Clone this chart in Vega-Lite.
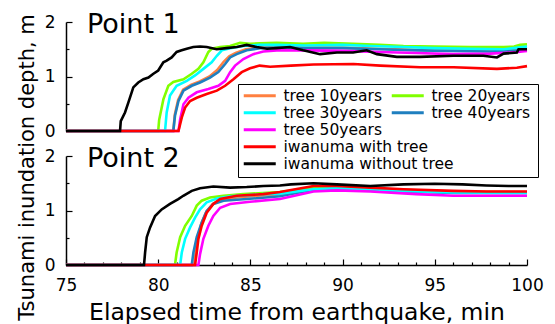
{
  "$schema": "https://vega.github.io/schema/vega-lite/v6.json",
  "padding": {"left": 15, "top": 11, "right": 5, "bottom": 2},
  "bounds": "flush",
  "spacing": 25,
  "config": {"view": {"stroke": null}, "font": "DejaVu Sans"},
  "data": {"values": [
    {"p":1,"s":"tree 10years","t":75,"v":0},{"p":1,"s":"tree 10years","t":80.82,"v":0},{"p":1,"s":"tree 10years","t":80.9,"v":0.3},{"p":1,"s":"tree 10years","t":81.08,"v":0.57},{"p":1,"s":"tree 10years","t":81.35,"v":0.76},{"p":1,"s":"tree 10years","t":81.8,"v":0.85},{"p":1,"s":"tree 10years","t":82.25,"v":0.91},{"p":1,"s":"tree 10years","t":82.78,"v":1.0},{"p":1,"s":"tree 10years","t":83.2,"v":1.12},{"p":1,"s":"tree 10years","t":83.55,"v":1.27},{"p":1,"s":"tree 10years","t":83.85,"v":1.37},{"p":1,"s":"tree 10years","t":84.2,"v":1.43},{"p":1,"s":"tree 10years","t":84.75,"v":1.5},{"p":1,"s":"tree 10years","t":85.5,"v":1.53},{"p":1,"s":"tree 10years","t":86.43,"v":1.54},{"p":1,"s":"tree 10years","t":88,"v":1.53},{"p":1,"s":"tree 10years","t":90,"v":1.53},{"p":1,"s":"tree 10years","t":92,"v":1.51},{"p":1,"s":"tree 10years","t":94,"v":1.49},{"p":1,"s":"tree 10years","t":96,"v":1.48},{"p":1,"s":"tree 10years","t":98,"v":1.47},{"p":1,"s":"tree 10years","t":99.5,"v":1.49},{"p":1,"s":"tree 10years","t":100,"v":1.51},
    {"p":1,"s":"tree 20years","t":75,"v":0},{"p":1,"s":"tree 20years","t":80.0,"v":0},{"p":1,"s":"tree 20years","t":80.05,"v":0.2},{"p":1,"s":"tree 20years","t":80.28,"v":0.58},{"p":1,"s":"tree 20years","t":80.55,"v":0.83},{"p":1,"s":"tree 20years","t":80.82,"v":0.9},{"p":1,"s":"tree 20years","t":81.37,"v":0.95},{"p":1,"s":"tree 20years","t":81.82,"v":1.05},{"p":1,"s":"tree 20years","t":82.18,"v":1.14},{"p":1,"s":"tree 20years","t":82.45,"v":1.26},{"p":1,"s":"tree 20years","t":82.72,"v":1.45},{"p":1,"s":"tree 20years","t":82.9,"v":1.51},{"p":1,"s":"tree 20years","t":83.36,"v":1.54},{"p":1,"s":"tree 20years","t":83.9,"v":1.56},{"p":1,"s":"tree 20years","t":84.44,"v":1.62},{"p":1,"s":"tree 20years","t":84.98,"v":1.6},{"p":1,"s":"tree 20years","t":85.5,"v":1.61},{"p":1,"s":"tree 20years","t":86.43,"v":1.62},{"p":1,"s":"tree 20years","t":87.86,"v":1.6},{"p":1,"s":"tree 20years","t":89.0,"v":1.62},{"p":1,"s":"tree 20years","t":90.59,"v":1.6},{"p":1,"s":"tree 20years","t":92.0,"v":1.58},{"p":1,"s":"tree 20years","t":93.3,"v":1.56},{"p":1,"s":"tree 20years","t":95.0,"v":1.55},{"p":1,"s":"tree 20years","t":96.92,"v":1.54},{"p":1,"s":"tree 20years","t":98.73,"v":1.54},{"p":1,"s":"tree 20years","t":99.3,"v":1.55},{"p":1,"s":"tree 20years","t":99.63,"v":1.58},{"p":1,"s":"tree 20years","t":100,"v":1.59},
    {"p":1,"s":"tree 30years","t":75,"v":0},{"p":1,"s":"tree 30years","t":80.37,"v":0},{"p":1,"s":"tree 30years","t":80.46,"v":0.34},{"p":1,"s":"tree 30years","t":80.64,"v":0.65},{"p":1,"s":"tree 30years","t":81.0,"v":0.83},{"p":1,"s":"tree 30years","t":81.55,"v":0.92},{"p":1,"s":"tree 30years","t":82.0,"v":1.02},{"p":1,"s":"tree 30years","t":82.45,"v":1.14},{"p":1,"s":"tree 30years","t":82.9,"v":1.26},{"p":1,"s":"tree 30years","t":83.18,"v":1.38},{"p":1,"s":"tree 30years","t":83.45,"v":1.48},{"p":1,"s":"tree 30years","t":83.9,"v":1.52},{"p":1,"s":"tree 30years","t":84.62,"v":1.56},{"p":1,"s":"tree 30years","t":85.5,"v":1.58},{"p":1,"s":"tree 30years","t":86.43,"v":1.58},{"p":1,"s":"tree 30years","t":88.0,"v":1.57},{"p":1,"s":"tree 30years","t":90.0,"v":1.58},{"p":1,"s":"tree 30years","t":91.5,"v":1.56},{"p":1,"s":"tree 30years","t":93.3,"v":1.54},{"p":1,"s":"tree 30years","t":95.0,"v":1.52},{"p":1,"s":"tree 30years","t":96.92,"v":1.51},{"p":1,"s":"tree 30years","t":98.73,"v":1.5},{"p":1,"s":"tree 30years","t":99.5,"v":1.53},{"p":1,"s":"tree 30years","t":100,"v":1.55},
    {"p":1,"s":"tree 40years","t":75,"v":0},{"p":1,"s":"tree 40years","t":80.82,"v":0},{"p":1,"s":"tree 40years","t":80.91,"v":0.28},{"p":1,"s":"tree 40years","t":81.1,"v":0.55},{"p":1,"s":"tree 40years","t":81.37,"v":0.74},{"p":1,"s":"tree 40years","t":81.82,"v":0.83},{"p":1,"s":"tree 40years","t":82.27,"v":0.89},{"p":1,"s":"tree 40years","t":82.81,"v":0.98},{"p":1,"s":"tree 40years","t":83.26,"v":1.08},{"p":1,"s":"tree 40years","t":83.63,"v":1.23},{"p":1,"s":"tree 40years","t":83.9,"v":1.35},{"p":1,"s":"tree 40years","t":84.26,"v":1.41},{"p":1,"s":"tree 40years","t":84.8,"v":1.48},{"p":1,"s":"tree 40years","t":85.53,"v":1.52},{"p":1,"s":"tree 40years","t":86.43,"v":1.53},{"p":1,"s":"tree 40years","t":88.0,"v":1.52},{"p":1,"s":"tree 40years","t":90.0,"v":1.52},{"p":1,"s":"tree 40years","t":92.0,"v":1.5},{"p":1,"s":"tree 40years","t":94.0,"v":1.48},{"p":1,"s":"tree 40years","t":96.0,"v":1.47},{"p":1,"s":"tree 40years","t":98.0,"v":1.46},{"p":1,"s":"tree 40years","t":99.5,"v":1.48},{"p":1,"s":"tree 40years","t":100,"v":1.5},
    {"p":1,"s":"tree 50years","t":75,"v":0},{"p":1,"s":"tree 50years","t":81.1,"v":0},{"p":1,"s":"tree 50years","t":81.19,"v":0.21},{"p":1,"s":"tree 50years","t":81.37,"v":0.49},{"p":1,"s":"tree 50years","t":81.64,"v":0.61},{"p":1,"s":"tree 50years","t":82.09,"v":0.71},{"p":1,"s":"tree 50years","t":82.72,"v":0.77},{"p":1,"s":"tree 50years","t":83.26,"v":0.83},{"p":1,"s":"tree 50years","t":83.63,"v":0.92},{"p":1,"s":"tree 50years","t":83.9,"v":1.08},{"p":1,"s":"tree 50years","t":84.17,"v":1.2},{"p":1,"s":"tree 50years","t":84.62,"v":1.32},{"p":1,"s":"tree 50years","t":85.16,"v":1.41},{"p":1,"s":"tree 50years","t":85.7,"v":1.46},{"p":1,"s":"tree 50years","t":86.43,"v":1.48},{"p":1,"s":"tree 50years","t":88.0,"v":1.48},{"p":1,"s":"tree 50years","t":90.0,"v":1.47},{"p":1,"s":"tree 50years","t":92.0,"v":1.45},{"p":1,"s":"tree 50years","t":94.0,"v":1.43},{"p":1,"s":"tree 50years","t":96.0,"v":1.41},{"p":1,"s":"tree 50years","t":98.0,"v":1.42},{"p":1,"s":"tree 50years","t":99.5,"v":1.45},{"p":1,"s":"tree 50years","t":100,"v":1.47},
    {"p":1,"s":"iwanuma with tree","t":75,"v":0},{"p":1,"s":"iwanuma with tree","t":81.1,"v":0},{"p":1,"s":"iwanuma with tree","t":81.28,"v":0.25},{"p":1,"s":"iwanuma with tree","t":81.46,"v":0.43},{"p":1,"s":"iwanuma with tree","t":81.73,"v":0.55},{"p":1,"s":"iwanuma with tree","t":82.09,"v":0.61},{"p":1,"s":"iwanuma with tree","t":82.63,"v":0.68},{"p":1,"s":"iwanuma with tree","t":83.18,"v":0.74},{"p":1,"s":"iwanuma with tree","t":83.63,"v":0.83},{"p":1,"s":"iwanuma with tree","t":84.08,"v":0.95},{"p":1,"s":"iwanuma with tree","t":84.53,"v":1.08},{"p":1,"s":"iwanuma with tree","t":84.98,"v":1.15},{"p":1,"s":"iwanuma with tree","t":85.5,"v":1.2},{"p":1,"s":"iwanuma with tree","t":86.07,"v":1.18},{"p":1,"s":"iwanuma with tree","t":87.2,"v":1.2},{"p":1,"s":"iwanuma with tree","t":88.42,"v":1.22},{"p":1,"s":"iwanuma with tree","t":90.59,"v":1.23},{"p":1,"s":"iwanuma with tree","t":92.04,"v":1.2},{"p":1,"s":"iwanuma with tree","t":94.21,"v":1.17},{"p":1,"s":"iwanuma with tree","t":96.02,"v":1.17},{"p":1,"s":"iwanuma with tree","t":98.37,"v":1.14},{"p":1,"s":"iwanuma with tree","t":99.45,"v":1.16},{"p":1,"s":"iwanuma with tree","t":100,"v":1.19},
    {"p":1,"s":"iwanuma without tree","t":75,"v":0},{"p":1,"s":"iwanuma without tree","t":77.93,"v":0},{"p":1,"s":"iwanuma without tree","t":77.97,"v":0.18},{"p":1,"s":"iwanuma without tree","t":78.2,"v":0.34},{"p":1,"s":"iwanuma without tree","t":78.38,"v":0.52},{"p":1,"s":"iwanuma without tree","t":78.65,"v":0.8},{"p":1,"s":"iwanuma without tree","t":78.92,"v":0.89},{"p":1,"s":"iwanuma without tree","t":79.2,"v":0.95},{"p":1,"s":"iwanuma without tree","t":79.47,"v":0.98},{"p":1,"s":"iwanuma without tree","t":79.74,"v":1.05},{"p":1,"s":"iwanuma without tree","t":80.0,"v":1.11},{"p":1,"s":"iwanuma without tree","t":80.28,"v":1.26},{"p":1,"s":"iwanuma without tree","t":80.46,"v":1.29},{"p":1,"s":"iwanuma without tree","t":80.73,"v":1.35},{"p":1,"s":"iwanuma without tree","t":81.0,"v":1.45},{"p":1,"s":"iwanuma without tree","t":81.27,"v":1.48},{"p":1,"s":"iwanuma without tree","t":81.55,"v":1.51},{"p":1,"s":"iwanuma without tree","t":81.9,"v":1.54},{"p":1,"s":"iwanuma without tree","t":82.27,"v":1.55},{"p":1,"s":"iwanuma without tree","t":82.63,"v":1.54},{"p":1,"s":"iwanuma without tree","t":83.17,"v":1.5},{"p":1,"s":"iwanuma without tree","t":83.7,"v":1.52},{"p":1,"s":"iwanuma without tree","t":84.26,"v":1.54},{"p":1,"s":"iwanuma without tree","t":84.8,"v":1.58},{"p":1,"s":"iwanuma without tree","t":85.34,"v":1.54},{"p":1,"s":"iwanuma without tree","t":85.9,"v":1.51},{"p":1,"s":"iwanuma without tree","t":86.4,"v":1.52},{"p":1,"s":"iwanuma without tree","t":87.15,"v":1.54},{"p":1,"s":"iwanuma without tree","t":87.86,"v":1.48},{"p":1,"s":"iwanuma without tree","t":88.78,"v":1.41},{"p":1,"s":"iwanuma without tree","t":89.69,"v":1.44},{"p":1,"s":"iwanuma without tree","t":90.57,"v":1.44},{"p":1,"s":"iwanuma without tree","t":91.3,"v":1.48},{"p":1,"s":"iwanuma without tree","t":91.86,"v":1.41},{"p":1,"s":"iwanuma without tree","t":92.94,"v":1.36},{"p":1,"s":"iwanuma without tree","t":94.2,"v":1.36},{"p":1,"s":"iwanuma without tree","t":96.0,"v":1.38},{"p":1,"s":"iwanuma without tree","t":97.63,"v":1.38},{"p":1,"s":"iwanuma without tree","t":98.37,"v":1.35},{"p":1,"s":"iwanuma without tree","t":98.73,"v":1.42},{"p":1,"s":"iwanuma without tree","t":99.45,"v":1.44},{"p":1,"s":"iwanuma without tree","t":99.54,"v":1.5},{"p":1,"s":"iwanuma without tree","t":100,"v":1.5},
    {"p":2,"s":"tree 10years","t":75,"v":0},{"p":2,"s":"tree 10years","t":81.95,"v":0},{"p":2,"s":"tree 10years","t":82.03,"v":0.23},{"p":2,"s":"tree 10years","t":82.15,"v":0.5},{"p":2,"s":"tree 10years","t":82.33,"v":0.75},{"p":2,"s":"tree 10years","t":82.6,"v":0.97},{"p":2,"s":"tree 10years","t":82.95,"v":1.12},{"p":2,"s":"tree 10years","t":83.4,"v":1.2},{"p":2,"s":"tree 10years","t":84.5,"v":1.25},{"p":2,"s":"tree 10years","t":86.6,"v":1.3},{"p":2,"s":"tree 10years","t":88.42,"v":1.41},{"p":2,"s":"tree 10years","t":89.69,"v":1.42},{"p":2,"s":"tree 10years","t":91.5,"v":1.4},{"p":2,"s":"tree 10years","t":93.3,"v":1.38},{"p":2,"s":"tree 10years","t":96.0,"v":1.35},{"p":2,"s":"tree 10years","t":100,"v":1.34},
    {"p":2,"s":"tree 20years","t":75,"v":0},{"p":2,"s":"tree 20years","t":80.91,"v":0},{"p":2,"s":"tree 20years","t":81.0,"v":0.23},{"p":2,"s":"tree 20years","t":81.19,"v":0.51},{"p":2,"s":"tree 20years","t":81.46,"v":0.72},{"p":2,"s":"tree 20years","t":81.82,"v":0.9},{"p":2,"s":"tree 20years","t":82.09,"v":1.09},{"p":2,"s":"tree 20years","t":82.36,"v":1.18},{"p":2,"s":"tree 20years","t":82.81,"v":1.24},{"p":2,"s":"tree 20years","t":83.54,"v":1.27},{"p":2,"s":"tree 20years","t":84.62,"v":1.3},{"p":2,"s":"tree 20years","t":86.6,"v":1.34},{"p":2,"s":"tree 20years","t":87.5,"v":1.38},{"p":2,"s":"tree 20years","t":88.42,"v":1.43},{"p":2,"s":"tree 20years","t":90.0,"v":1.42},{"p":2,"s":"tree 20years","t":91.5,"v":1.39},{"p":2,"s":"tree 20years","t":93.3,"v":1.37},{"p":2,"s":"tree 20years","t":95.0,"v":1.35},{"p":2,"s":"tree 20years","t":97.0,"v":1.34},{"p":2,"s":"tree 20years","t":100,"v":1.33},
    {"p":2,"s":"tree 30years","t":75,"v":0},{"p":2,"s":"tree 30years","t":81.19,"v":0},{"p":2,"s":"tree 30years","t":81.28,"v":0.23},{"p":2,"s":"tree 30years","t":81.46,"v":0.48},{"p":2,"s":"tree 30years","t":81.73,"v":0.69},{"p":2,"s":"tree 30years","t":82.0,"v":0.87},{"p":2,"s":"tree 30years","t":82.27,"v":1.02},{"p":2,"s":"tree 30years","t":82.63,"v":1.15},{"p":2,"s":"tree 30years","t":83.18,"v":1.22},{"p":2,"s":"tree 30years","t":83.9,"v":1.26},{"p":2,"s":"tree 30years","t":85.7,"v":1.3},{"p":2,"s":"tree 30years","t":86.6,"v":1.31},{"p":2,"s":"tree 30years","t":88.42,"v":1.39},{"p":2,"s":"tree 30years","t":89.69,"v":1.41},{"p":2,"s":"tree 30years","t":91.5,"v":1.39},{"p":2,"s":"tree 30years","t":93.3,"v":1.36},{"p":2,"s":"tree 30years","t":96.0,"v":1.33},{"p":2,"s":"tree 30years","t":100,"v":1.32},
    {"p":2,"s":"tree 40years","t":75,"v":0},{"p":2,"s":"tree 40years","t":81.82,"v":0},{"p":2,"s":"tree 40years","t":81.91,"v":0.23},{"p":2,"s":"tree 40years","t":82.09,"v":0.51},{"p":2,"s":"tree 40years","t":82.36,"v":0.78},{"p":2,"s":"tree 40years","t":82.63,"v":0.99},{"p":2,"s":"tree 40years","t":82.99,"v":1.12},{"p":2,"s":"tree 40years","t":83.54,"v":1.18},{"p":2,"s":"tree 40years","t":84.8,"v":1.21},{"p":2,"s":"tree 40years","t":86.6,"v":1.26},{"p":2,"s":"tree 40years","t":88.42,"v":1.38},{"p":2,"s":"tree 40years","t":89.69,"v":1.4},{"p":2,"s":"tree 40years","t":91.5,"v":1.38},{"p":2,"s":"tree 40years","t":93.3,"v":1.35},{"p":2,"s":"tree 40years","t":96.0,"v":1.32},{"p":2,"s":"tree 40years","t":100,"v":1.32},
    {"p":2,"s":"tree 50years","t":75,"v":0},{"p":2,"s":"tree 50years","t":82.18,"v":0},{"p":2,"s":"tree 50years","t":82.27,"v":0.2},{"p":2,"s":"tree 50years","t":82.45,"v":0.48},{"p":2,"s":"tree 50years","t":82.72,"v":0.72},{"p":2,"s":"tree 50years","t":82.99,"v":0.9},{"p":2,"s":"tree 50years","t":83.36,"v":1.05},{"p":2,"s":"tree 50years","t":83.9,"v":1.12},{"p":2,"s":"tree 50years","t":84.98,"v":1.16},{"p":2,"s":"tree 50years","t":86.6,"v":1.21},{"p":2,"s":"tree 50years","t":88.42,"v":1.35},{"p":2,"s":"tree 50years","t":89.69,"v":1.37},{"p":2,"s":"tree 50years","t":91.5,"v":1.35},{"p":2,"s":"tree 50years","t":94.0,"v":1.3},{"p":2,"s":"tree 50years","t":96.0,"v":1.27},{"p":2,"s":"tree 50years","t":100,"v":1.27},
    {"p":2,"s":"iwanuma with tree","t":75,"v":0},{"p":2,"s":"iwanuma with tree","t":82.0,"v":0},{"p":2,"s":"iwanuma with tree","t":82.09,"v":0.23},{"p":2,"s":"iwanuma with tree","t":82.18,"v":0.48},{"p":2,"s":"iwanuma with tree","t":82.36,"v":0.72},{"p":2,"s":"iwanuma with tree","t":82.63,"v":0.96},{"p":2,"s":"iwanuma with tree","t":82.99,"v":1.12},{"p":2,"s":"iwanuma with tree","t":83.36,"v":1.21},{"p":2,"s":"iwanuma with tree","t":84.26,"v":1.27},{"p":2,"s":"iwanuma with tree","t":85.7,"v":1.3},{"p":2,"s":"iwanuma with tree","t":86.6,"v":1.34},{"p":2,"s":"iwanuma with tree","t":88.42,"v":1.45},{"p":2,"s":"iwanuma with tree","t":89.69,"v":1.45},{"p":2,"s":"iwanuma with tree","t":91.5,"v":1.42},{"p":2,"s":"iwanuma with tree","t":93.3,"v":1.39},{"p":2,"s":"iwanuma with tree","t":96.0,"v":1.36},{"p":2,"s":"iwanuma with tree","t":97.8,"v":1.35},{"p":2,"s":"iwanuma with tree","t":100,"v":1.35},
    {"p":2,"s":"iwanuma without tree","t":75,"v":0},{"p":2,"s":"iwanuma without tree","t":79.23,"v":0},{"p":2,"s":"iwanuma without tree","t":79.29,"v":0.23},{"p":2,"s":"iwanuma without tree","t":79.38,"v":0.51},{"p":2,"s":"iwanuma without tree","t":79.56,"v":0.69},{"p":2,"s":"iwanuma without tree","t":79.83,"v":0.9},{"p":2,"s":"iwanuma without tree","t":80.19,"v":1.02},{"p":2,"s":"iwanuma without tree","t":80.64,"v":1.12},{"p":2,"s":"iwanuma without tree","t":81.09,"v":1.21},{"p":2,"s":"iwanuma without tree","t":81.36,"v":1.27},{"p":2,"s":"iwanuma without tree","t":81.82,"v":1.36},{"p":2,"s":"iwanuma without tree","t":82.27,"v":1.41},{"p":2,"s":"iwanuma without tree","t":82.99,"v":1.44},{"p":2,"s":"iwanuma without tree","t":83.9,"v":1.42},{"p":2,"s":"iwanuma without tree","t":84.8,"v":1.43},{"p":2,"s":"iwanuma without tree","t":85.7,"v":1.45},{"p":2,"s":"iwanuma without tree","t":86.6,"v":1.46},{"p":2,"s":"iwanuma without tree","t":87.2,"v":1.48},{"p":2,"s":"iwanuma without tree","t":88.42,"v":1.5},{"p":2,"s":"iwanuma without tree","t":89.69,"v":1.48},{"p":2,"s":"iwanuma without tree","t":91.5,"v":1.45},{"p":2,"s":"iwanuma without tree","t":93.3,"v":1.48},{"p":2,"s":"iwanuma without tree","t":95.0,"v":1.49},{"p":2,"s":"iwanuma without tree","t":96.5,"v":1.48},{"p":2,"s":"iwanuma without tree","t":97.8,"v":1.46},{"p":2,"s":"iwanuma without tree","t":99.0,"v":1.45},{"p":2,"s":"iwanuma without tree","t":100,"v":1.45}
  ]},
  "vconcat": [
    {
      "width": 461, "height": 109,
      "title": {"text": "Point 1", "anchor": "start", "frame": "group", "fontSize": 27, "fontWeight": "normal", "color": "#000", "offset": 0, "dx": 21, "dy": 47, "baseline": "alphabetic"},
      "transform": [{"filter": "datum.p == 1"}],
      "encoding": {
        "x": {"field": "t", "type": "quantitative", "scale": {"domain": [75, 100], "nice": false, "zero": false}, "axis": null},
        "y": {"field": "v", "type": "quantitative", "scale": {"domain": [0, 2]},
          "axis": {"values": [0, 0.5, 1, 1.5, 2], "labelExpr": "datum.value % 1 == 0 ? '' + datum.value : ''", "labelOverlap": false,
            "tickSize": {"condition": {"test": "datum.value % 1 == 0", "value": -6}, "value": -3},
            "grid": false, "domainColor": "#000", "domainWidth": 1.5, "tickColor": "#000", "tickWidth": 1.2,
            "labelFontSize": 17, "labelColor": "#000", "labelPadding": 17,
            "title": "Tsunami inundation depth, m", "titleFontSize": 21, "titleFontWeight": "normal", "titleColor": "#000",
            "titleX": -33, "titleY": 145, "titleBaseline": "alphabetic", "titleAngle": -90, "titleAlign": "center"}}
      },
      "layer": [
        {"transform": [{"filter": "datum.s == 'tree 10years'"}],
         "mark": {"type": "line", "strokeWidth": 2.6},
         "encoding": {"stroke": {"field": "s", "type": "nominal",
           "scale": {"domain": ["tree 10years", "tree 30years", "tree 50years", "iwanuma with tree", "iwanuma without tree"], "range": ["#ff8040", "#00ffff", "#ff00ff", "#ff0000", "#000000"]},
           "legend": {"orient": "none", "legendX": 172, "legendY": 62, "title": ".", "titleOrient": "right", "titleColor": "rgba(0,0,0,0)", "titleFontSize": 10, "titlePadding": 76,
             "direction": "vertical", "symbolType": "M-1,0H4.333", "symbolSize": 144, "symbolStrokeWidth": 3, "labelFontSize": 15.5, "labelColor": "#000",
             "labelOffset": 26, "rowPadding": 0, "padding": 4, "strokeColor": "#000", "labelLimit": 400}}}},
        {"transform": [{"filter": "datum.s == 'tree 20years' || datum.s == 'tree 40years'"}],
         "mark": {"type": "line", "strokeWidth": 2.6},
         "encoding": {"color": {"field": "s", "type": "nominal",
           "scale": {"domain": ["tree 20years", "tree 40years"], "range": ["#80ff00", "#1f7fbf"]},
           "legend": {"orient": "none", "legendX": 320, "legendY": 62, "title": null,
             "direction": "vertical", "symbolType": "M-1,0H4.333", "symbolSize": 144, "symbolStrokeWidth": 3, "labelFontSize": 15.5, "labelColor": "#000",
             "labelOffset": 26, "rowPadding": 0, "padding": 4, "labelLimit": 400}}}},
        {"transform": [{"filter": "datum.s != 'tree 10years' && datum.s != 'tree 20years' && datum.s != 'tree 40years'"}],
         "mark": {"type": "line", "strokeWidth": 2.6},
         "encoding": {"stroke": {"field": "s", "type": "nominal"}}}
      ]
    },
    {
      "width": 461, "height": 109,
      "title": {"text": "Point 2", "anchor": "start", "frame": "group", "fontSize": 27, "fontWeight": "normal", "color": "#000", "offset": 0, "dx": 21, "dy": 47, "baseline": "alphabetic"},
      "transform": [{"filter": "datum.p == 2"}],
      "encoding": {
        "x": {"field": "t", "type": "quantitative", "scale": {"domain": [75, 100], "nice": false, "zero": false},
          "axis": {"values": [75,76,77,78,79,80,81,82,83,84,85,86,87,88,89,90,91,92,93,94,95,96,97,98,99,100],
            "labelExpr": "datum.value % 5 == 0 ? '' + datum.value : ''", "labelOverlap": false,
            "tickSize": {"condition": {"test": "datum.value % 5 == 0", "value": -6}, "value": -3},
            "grid": false, "domainColor": "#000", "domainWidth": 1.5, "tickColor": "#000", "tickWidth": 1.2,
            "labelFontSize": 17, "labelColor": "#000", "labelPadding": 31, "labelBaseline": "alphabetic", "labelFlush": false,
            "title": "Elapsed time from earthquake, min", "titleFontSize": 23.5, "titleFontWeight": "normal", "titleColor": "#000",
            "titleY": 54, "titleBaseline": "alphabetic"}},
        "y": {"field": "v", "type": "quantitative", "scale": {"domain": [0, 2]},
          "axis": {"values": [0, 0.5, 1, 1.5, 2], "labelExpr": "datum.value % 1 == 0 ? '' + datum.value : ''", "labelOverlap": false,
            "tickSize": {"condition": {"test": "datum.value % 1 == 0", "value": -6}, "value": -3},
            "grid": false, "domainColor": "#000", "domainWidth": 1.5, "tickColor": "#000", "tickWidth": 1.2,
            "labelFontSize": 17, "labelColor": "#000", "labelPadding": 17, "title": null}}
      },
      "layer": [
        {"transform": [{"filter": "datum.s == 'tree 10years'"}],
         "mark": {"type": "line", "strokeWidth": 2.6},
         "encoding": {"stroke": {"field": "s", "type": "nominal"}}},
        {"transform": [{"filter": "datum.s == 'tree 20years' || datum.s == 'tree 40years'"}],
         "mark": {"type": "line", "strokeWidth": 2.6},
         "encoding": {"color": {"field": "s", "type": "nominal"}}},
        {"transform": [{"filter": "datum.s != 'tree 10years' && datum.s != 'tree 20years' && datum.s != 'tree 40years'"}],
         "mark": {"type": "line", "strokeWidth": 2.6},
         "encoding": {"stroke": {"field": "s", "type": "nominal"}}}
      ]
    }
  ]
}
